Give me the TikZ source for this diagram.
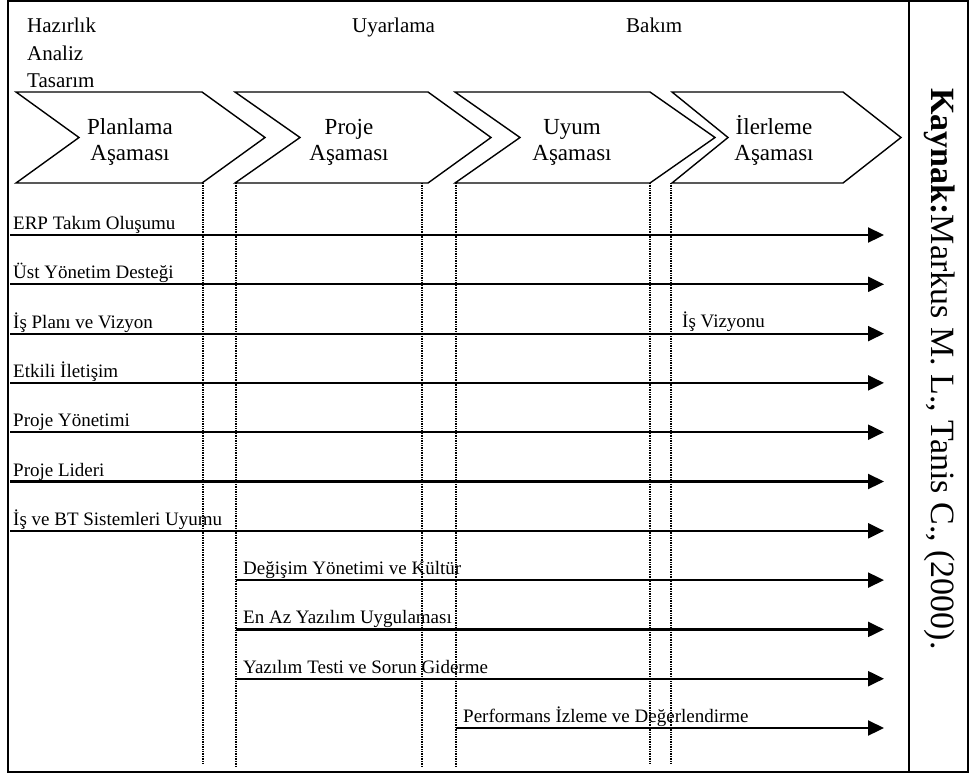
\documentclass[tikz,border=0pt]{standalone}
\usepackage{fontspec}
\setmainfont{Liberation Serif}
\usetikzlibrary{arrows.meta}
\begin{document}
\begin{tikzpicture}[x=1pt,y=-1pt,
  frameline/.style={line width=2pt},
  phase/.style={draw, line width=1.4pt, line join=miter},
  phasetext/.style={font=\fontsize{23}{26}\selectfont, anchor=base, inner sep=0pt},
  toplabel/.style={font=\fontsize{21}{25}\selectfont, anchor=base west, inner sep=0pt},
  flow/.style={line width=2.2pt, -{Triangle[length=16pt,width=15pt]}},
  flowlabel/.style={font=\fontsize{19}{22}\selectfont, anchor=base west, inner sep=0pt},
  divider/.style={line width=1.8pt, dash pattern=on 1pt off 0.7pt}
]
\useasboundingbox (0,0) rectangle (971,774);

% outer frame and source column
\draw[frameline] (8,1) rectangle (968,772);
\draw[frameline] (909,1) -- (909,772);

% period headings
\node[toplabel] (hz) at (27,32) {Hazırlık};
\node[toplabel] (an) at (27,60) {Analiz};
\node[toplabel] (ts) at (27,87.5) {Tasarım};
\node[toplabel] (uy) at (352,32) {Uyarlama};
\node[toplabel] (bk) at (626,32) {Bakım};

% phase chevrons
\draw[phase] (16,92) -- (202,92) -- (265,137.5) -- (202,183) -- (16,183) -- (79,137.5) -- cycle;
\draw[phase] (235,92) -- (428,92) -- (491,137.5) -- (428,183) -- (235,183) -- (300,137.5) -- cycle;
\draw[phase] (455,92) -- (650,92) -- (715,137.5) -- (650,183) -- (455,183) -- (520,137.5) -- cycle;
\draw[phase] (672,92) -- (843,92) -- (901,137.5) -- (843,183) -- (672,183) -- (728,137.5) -- cycle;
\node[phasetext] (p1a) at (130,134) {Planlama};
\node[phasetext] (p1b) at (130,160) {Aşaması};
\node[phasetext] (p2a) at (349,134) {Proje};
\node[phasetext] (p2b) at (349,160) {Aşaması};
\node[phasetext] (p3a) at (572,134) {Uyum};
\node[phasetext] (p3b) at (572,160) {Aşaması};
\node[phasetext] (p4a) at (774,134) {İlerleme};
\node[phasetext] (p4b) at (774,160) {Aşaması};

% success factors along the timeline
\foreach \i/\y/\x/\d/\t in {
  1/235/10/3/ERP Takım Oluşumu,
  2/284.3/10/3/Üst Yönetim Desteği,
  3/333.6/10/3/İş Planı ve Vizyon,
  4/382.9/10/3/Etkili İletişim,
  5/432.2/10/3/Proje Yönetimi,
  6/481.5/10/3/Proje Lideri,
  7/530.8/10/3/İş ve BT Sistemleri Uyumu,
  8/580.1/236/7/Değişim Yönetimi ve Kültür,
  9/629.4/236/7/En Az Yazılım Uygulaması,
  10/678.7/236/7/Yazılım Testi ve Sorun Giderme,
  11/728/456/7/Performans İzleme ve Değerlendirme}{
  \coordinate (s\i) at (\x,\y);
  \coordinate (e\i) at (884,\y);
  \draw[flow] (s\i) -- (e\i);
  \node[flowlabel] (f\i) at ([shift={(\d pt,5.5pt)}]s\i) {\t};
}
\node[flowlabel] (vz) at (682,327) {İş Vizyonu};

% phase boundaries
\draw[divider] (203,183) -- (203,763);
\draw[divider] (236,183) -- (236,767);
\draw[divider] (422,183) -- (422,767);
\draw[divider] (456,183) -- (456,767);
\draw[divider] (650,183) -- (650,763);
\draw[divider] (671,183) -- (671,763);

% source note
\node[rotate=-90, anchor=base west, inner sep=0pt, font=\fontsize{34}{34}\selectfont] (src) at (931,88)
  {\textbf{Kaynak:}Markus M. L., Tanis C., (2000).};
\end{tikzpicture}
\end{document}
